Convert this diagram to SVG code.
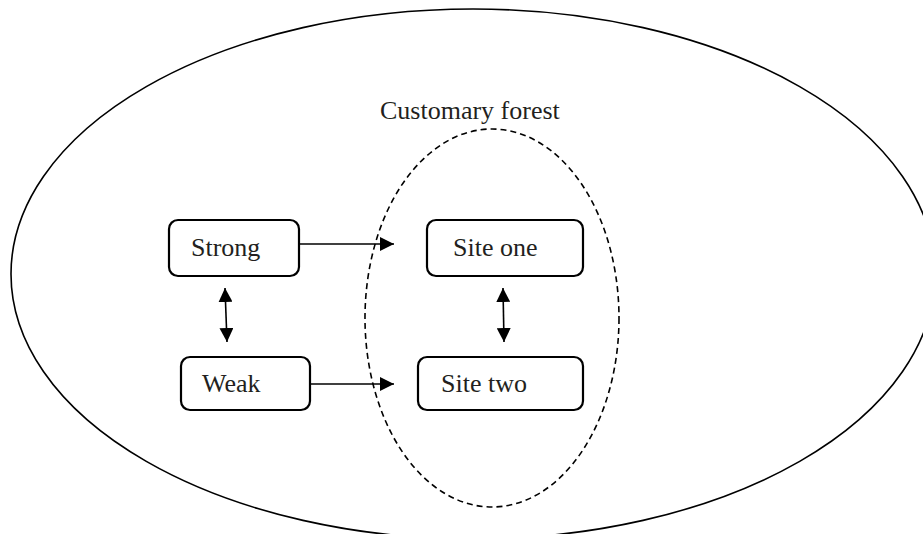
<svg xmlns="http://www.w3.org/2000/svg" width="923" height="534" viewBox="0 0 923 534">
<defs>
<style>
.box{fill:#fff;stroke:#000;stroke-width:2.2}
.lbl{font-family:'Liberation Serif','Times New Roman','DejaVu Serif',serif;font-size:26px;fill:#231f20}
.con{stroke:#000;stroke-width:1.6;fill:none}
</style>
<marker id="ah" markerUnits="userSpaceOnUse" markerWidth="15" markerHeight="14" refX="14" refY="7" orient="auto-start-reverse" viewBox="0 0 15 14">
<path d="M0,0 L14,7 L0,14 Z" fill="#000"/>
</marker>
</defs>
<rect width="923" height="534" fill="#fff"/>
<g id="outer">
<ellipse cx="473" cy="274" rx="462" ry="265" fill="none" stroke="#000" stroke-width="1.6"/>
</g>
<g id="customary-forest">
<ellipse cx="492" cy="318" rx="127" ry="189" fill="none" stroke="#000" stroke-width="1.6" stroke-dasharray="6 4"/>
<text class="lbl" x="380" y="119" font-family="Liberation Serif, serif">Customary forest</text>
</g>
<g id="connectors">
<line class="con" x1="299" y1="244" x2="394" y2="244" marker-end="url(#ah)"/>
<line class="con" x1="310" y1="384" x2="394" y2="384" marker-end="url(#ah)"/>
<line class="con" x1="225" y1="288" x2="227" y2="342" marker-start="url(#ah)" marker-end="url(#ah)"/>
<line class="con" x1="503" y1="288" x2="504" y2="342" marker-start="url(#ah)" marker-end="url(#ah)"/>
</g>
<g id="strong">
<rect class="box" x="169" y="220" width="130" height="56" rx="9"/>
<text class="lbl" x="191" y="256">Strong</text>
</g>
<g id="weak">
<rect class="box" x="181" y="357" width="129" height="53" rx="9"/>
<text class="lbl" x="202" y="392">Weak</text>
</g>
<g id="site-one">
<rect class="box" x="427" y="220" width="156" height="56" rx="9"/>
<text class="lbl" x="453" y="256">Site one</text>
</g>
<g id="site-two">
<rect class="box" x="418" y="357" width="165" height="53" rx="9"/>
<text class="lbl" x="441" y="392">Site two</text>
</g>
</svg>
